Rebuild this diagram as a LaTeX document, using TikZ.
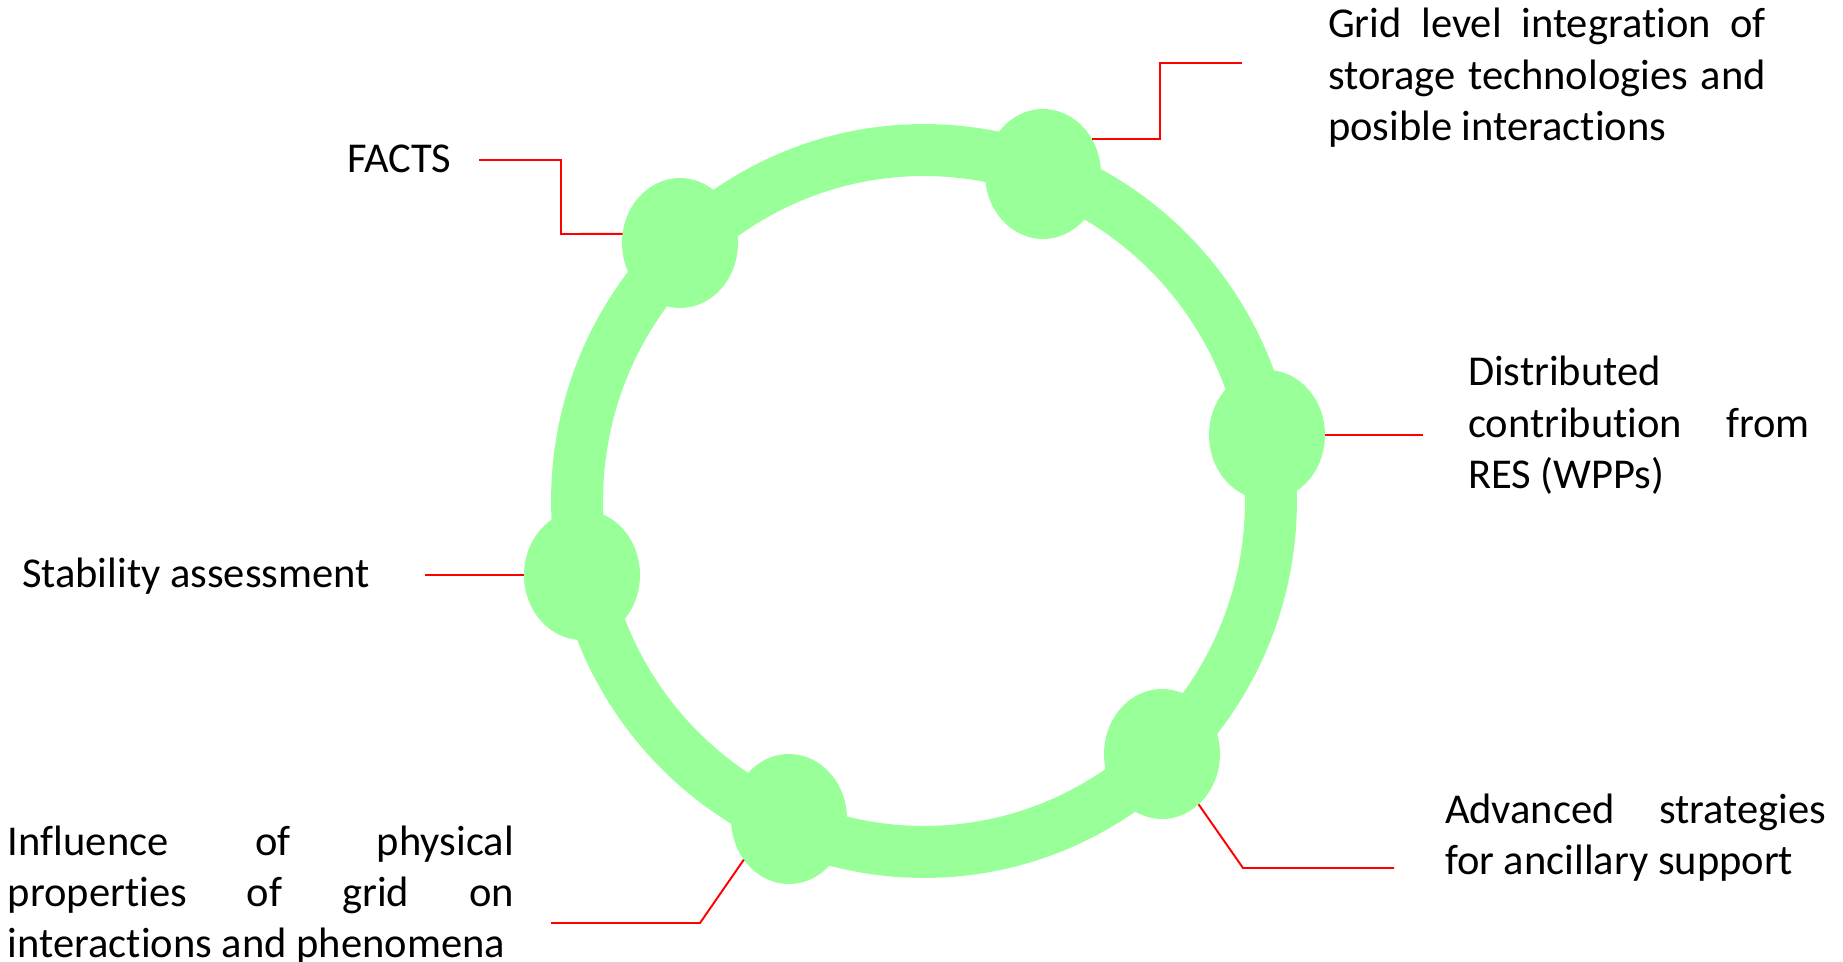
\documentclass[tikz,border=0pt]{standalone}
\usepackage{fontspec}
\setmainfont{Carlito}[Ligatures={NoCommon}]
\usepackage{tikz}
\usetikzlibrary{shapes.geometric}
\definecolor{ringgreen}{RGB}{153,255,153}
\tikzset{
every picture/.style={x=0.02cm, y=-0.02cm},
%%%%%%%%%%  ring and knots
ring/.style={draw=ringgreen, line width=1.04cm},
knot/.style={ellipse, fill=ringgreen, minimum width=2.32cm,
             minimum height=2.6cm, inner sep=0pt, outer sep=0},
%%%%%%%%%%  text styles
label_text/.style={anchor=base west, inner sep=0, outer sep=0,
                   font=\fontsize{24.2}{29.1}\selectfont},
label_box/.style={label_text, text width=#1, align=justify},
%%%%%%%%%%  leader lines
leader/.style={draw=red, line width=1.1pt}
}

\begin{document}
\begin{tikzpicture}
\useasboundingbox (0,0) rectangle (1843,962);
%% the ring
\coordinate (c) at (924,501);
\draw[ring] (c) ellipse [x radius=6.94cm, y radius=7.02cm];
%% knots on the ring
\node[knot] (facts_k) at (680,243) {};
\node[knot] (store_k) at (1043,174) {};
\node[knot] (res_k) at (1267,435) {};
\node[knot] (anc_k) at (1162,754) {};
\node[knot] (phys_k) at (789,819) {};
\node[knot] (stab_k) at (582,575) {};
%% labels
\node[label_text] (facts) at (347,173) {FACTS};
\node[label_box=8.76cm] (store) at (1328,38)
  {Grid level integration of\linebreak storage technologies and\linebreak posible interactions};
\node[label_box=6.84cm] (res) at (1468,386)
  {Distributed\\ contribution from\linebreak RES (WPPs)};
\node[label_text] (stab) at (22,588) {Stability assessment};
\node[label_box=7.62cm] (anc) at (1445,823)
  {Advanced strategies\linebreak for ancillary support};
\node[label_box=10.12cm] (phys) at (8,855)
  {Influence of physical\linebreak properties of grid on\linebreak interactions and phenomena};
%% leader lines, knot by knot
\coordinate (facts_a) at (479,160);
\coordinate (facts_b) at (561,234);
\draw[leader] (facts_a) -| (facts_b) -- (facts_k.171);
%%
\coordinate (store_b) at (1160,63);
\coordinate (store_a) at (1242,63);
\draw[leader] (store_k.36) -| (store_b) -- (store_a);
%%
\coordinate (res_a) at (1423,435);
\draw[leader] (res_k.east) -- (res_a);
%%
\coordinate (anc_b) at (1243,868);
\coordinate (anc_a) at (1394,868);
\draw[leader] (anc_k.-54) -- (anc_b) -- (anc_a);
%%
\coordinate (phys_b) at (700,923);
\coordinate (phys_a) at (551,923);
\draw[leader] (phys_k.222) -- (phys_b) -- (phys_a);
%%
\coordinate (stab_a) at (425,575);
\draw[leader] (stab_a) -- (stab_k.west);
\end{tikzpicture}
\end{document}
